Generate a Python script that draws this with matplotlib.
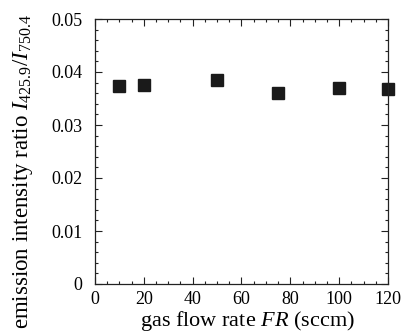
import matplotlib
matplotlib.use("Agg")
import matplotlib.pyplot as plt
from matplotlib.ticker import MultipleLocator

plt.rcParams['font.family'] = ['Liberation Serif', 'DejaVu Serif']
plt.rcParams['mathtext.fontset'] = 'custom'
plt.rcParams['mathtext.rm'] = 'Liberation Serif'
plt.rcParams['mathtext.it'] = 'Liberation Serif:italic'

flow_rate = [10, 20, 50, 75, 100, 120]
intensity_ratio = [0.0373, 0.0375, 0.0385, 0.0360, 0.0369, 0.0367]

fig = plt.figure(figsize=(4.02, 3.34), dpi=100)
ax = fig.add_axes([95 / 402, 1 - 284 / 334, 293 / 402, 265 / 334])

ax.plot(flow_rate, intensity_ratio, linestyle='none', marker='s',
        markersize=8.3, color='#1a1a1a', clip_on=False)

ax.set_xlim(0, 120)
ax.set_ylim(0, 0.05)
ax.xaxis.set_major_locator(MultipleLocator(20))
ax.xaxis.set_minor_locator(MultipleLocator(5))
ax.yaxis.set_major_locator(MultipleLocator(0.01))
ax.yaxis.set_minor_locator(MultipleLocator(0.002))
ax.set_yticks([0, 0.01, 0.02, 0.03, 0.04, 0.05])
ax.set_yticklabels(['0', '0.01', '0.02', '0.03', '0.04', '0.05'])

ax.tick_params(which='both', direction='in', top=True, right=True,
               labelsize=13, color='#222222', width=0.8)
ax.tick_params(which='major', length=5)
ax.tick_params(which='minor', length=2.5)
ax.tick_params(axis='y', pad=9)
ax.tick_params(axis='x', pad=5)
for s in ax.spines.values():
    s.set_linewidth(0.9)
    s.set_color('#222222')

ax.set_xlabel(r'gas flow rate $\mathit{FR}$ (sccm)', fontsize=16)
ax.xaxis.set_label_coords(0.52, -0.093, transform=ax.transAxes)
ax.set_ylabel(r'emission intensity ratio $\mathit{I}_{425.9}/\mathit{I}_{750.4}$',
              fontsize=16.5)
ax.yaxis.set_label_coords(-0.245, 0.425, transform=ax.transAxes)
ax.yaxis.label.set_va('center')
ax.xaxis.label.set_va('top')

fig.savefig('out.png', dpi=100)
